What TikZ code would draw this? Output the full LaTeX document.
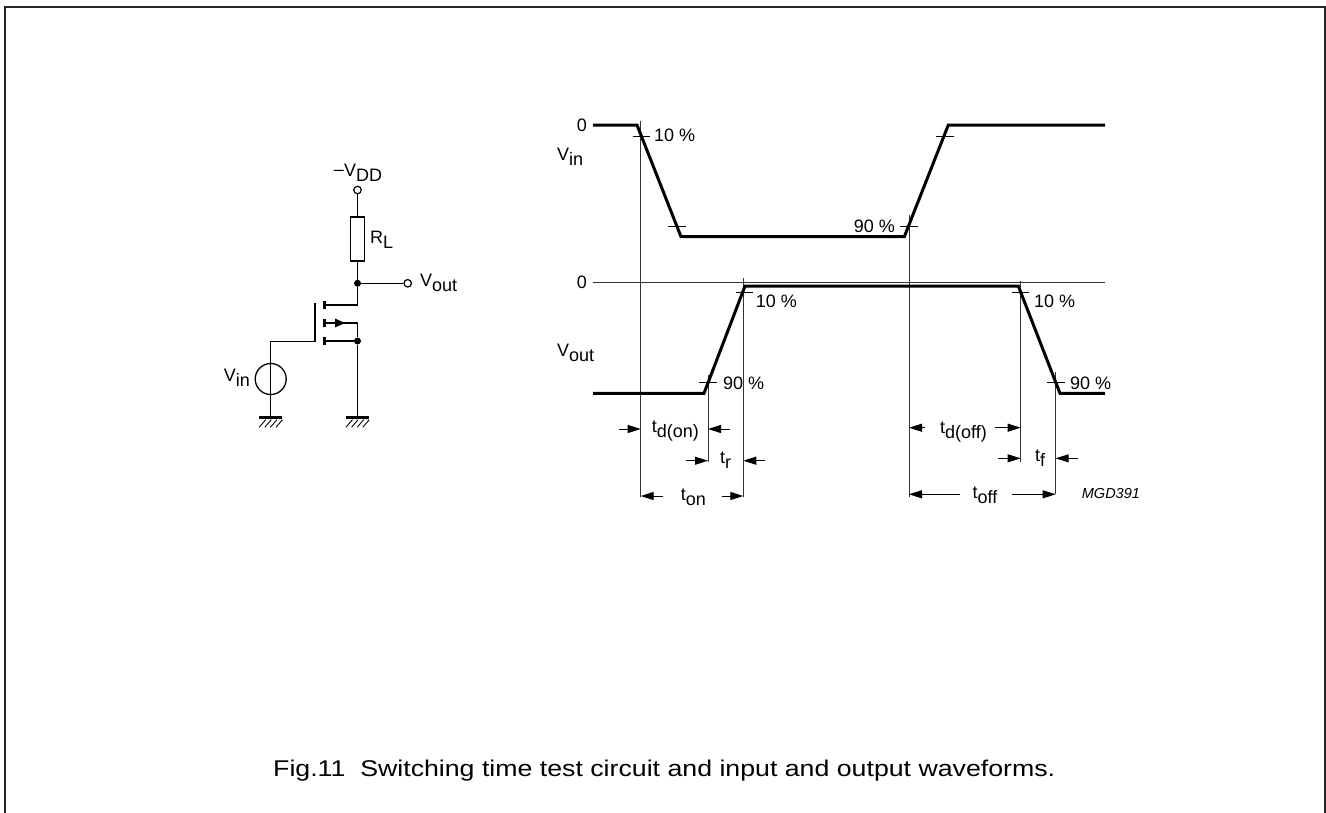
\documentclass[tikz,border=0pt]{standalone}
\usepackage{fontspec}
\setmainfont{Liberation Sans}
\usetikzlibrary{arrows.meta}
\newcommand\lo[1]{\raisebox{-5pt}{#1}}
\begin{document}
\begin{tikzpicture}[x=1pt,y=-1pt,
  lbl/.style={font=\fontsize{18}{20}\selectfont, inner sep=0pt},
  wave/.style={line width=3pt, line join=miter},
  guide/.style={line width=1pt, black!80},
  tickmark/.style={line width=1pt},
  wire/.style={line width=1.3pt},
  tarr/.style={line width=1pt, -{Triangle[length=13pt,width=8pt]}},
  term/.style={circle, draw, line width=1.2pt, fill=white, minimum size=7.5pt, inner sep=0pt},
  jdot/.style={circle, fill, minimum size=7pt, inner sep=0pt},
  gnd/.pic={
    \draw[line width=3pt] (-11.5,0) -- (11.5,0);
    \foreach \i in {0,1,2,3} \draw[line width=0.9pt] (-11.5+\i*5.6,9.5) -- (-5+\i*5.6,2);
  }
]
\useasboundingbox (0,0) rectangle (1326,812);
\draw[line width=2pt, black!85] (5,6.5) rectangle (1324.5,840);

% ---------------- circuit ----------------
\node[lbl, anchor=base] (vddl) at (358,176) {\raisebox{1pt}{–}V\lo{DD}};
\node[term] (vdd) at (357.5,190) {};
\node[draw, line width=1.3pt, minimum width=13.6pt, minimum height=44pt, inner sep=0pt] (rl) at (357.5,239) {};
\node[lbl, anchor=base west] (rll) at (370,243.3) {R\lo{L}};
\node[jdot] (j1) at (357.5,283.3) {};
\node[term] (vo) at (407.7,283.3) {};
\node[lbl, anchor=base west] (vol) at (420,286.7) {V\lo{out}};
\draw[wire] (vdd) -- (rl.north);
\draw[wire] (rl.south) -- (j1);
\draw[wire] (j1) -- (vo);
% mosfet
\coordinate (dbar) at (324,305);
\coordinate (sbar) at (324,323);
\coordinate (bbar) at (324,341);
\node[jdot] (j2) at (357.5,341) {};
\draw[wire] (j1) |- (dbar);
\draw[wire] (sbar) -- (357.5,323) -- (j2);
\draw[wire] (bbar) -- (j2);
\foreach \c in {dbar,sbar,bbar} \draw[line width=3pt] ([yshift=-4.2pt]\c) -- ([yshift=4.2pt]\c);
\fill (335,318.5) -- (345,323) -- (335,327.5) -- cycle;
% gate and source
\coordinate (gtop) at (315,303);
\coordinate (gbot) at (315,341.5);
\coordinate (g1) at (270.7,417.7);
\coordinate (g2) at (357.5,417.7);
\draw[wire] (gtop) -- (gbot) -| (g1);
\node[circle, draw, line width=1.3pt, minimum size=31pt, inner sep=0pt] (vs) at (270.7,379) {};
\node[lbl, anchor=base east] (vinl) at (250,381.5) {V\lo{in}};
\draw[wire] (j2) -- (g2);
\pic at (g1) {gnd};
\pic at (g2) {gnd};

% ---------------- waveforms ----------------
% guides
\draw[guide] (593,282.3) -- (1105,282.3);
\draw[guide] (640.7,121) -- (640.7,497);
\draw[guide] (909,215) -- (909,497);
\draw[guide] (743.3,278) -- (743.3,497);
\draw[guide] (708,375) -- (708,462);
\draw[guide] (1020.7,281) -- (1020.7,462);
\draw[guide] (1055.7,372) -- (1055.7,494);
% Vin
\coordinate (a0) at (593,125);
\coordinate (a1) at (637,125);
\coordinate (a2) at (681,236.7);
\coordinate (a3) at (904.3,236.7);
\coordinate (a4) at (948.3,125);
\coordinate (a5) at (1105,125);
\draw[wave] (a0) -- (a1) -- (a2) -- (a3) -- (a4) -- (a5);
\draw[tickmark] (632.5,136) -- (650,136);
\draw[tickmark] (668,226) -- (686,226);
\draw[tickmark] (900,226) -- (917.5,226);
\draw[tickmark] (936,136) -- (953.5,136);
% Vout
\coordinate (b0) at (593,393.3);
\coordinate (b1) at (704,393.3);
\coordinate (b2) at (745,286);
\coordinate (b3) at (1018.3,286);
\coordinate (b4) at (1060,393.3);
\coordinate (b5) at (1105,393.3);
\draw[wave] (b0) -- (b1) -- (b2) -- (b3) -- (b4) -- (b5);
\draw[tickmark] (735.5,292.7) -- (752.5,292.7);
\draw[tickmark] (699.3,382.7) -- (716.7,382.7);
\draw[tickmark] (1011.7,292.7) -- (1029.3,292.7);
\draw[tickmark] (1047.3,382.7) -- (1065,382.7);
% labels
\node[lbl, anchor=base east] (z1) at (587,131.5) {0};
\node[lbl, anchor=base east] (z2) at (587,288.8) {0};
\node[lbl, anchor=base west] (vinw) at (557,160) {V\lo{in}};
\node[lbl, anchor=base west] (voutw) at (557,356) {V\lo{out}};
\node[lbl, anchor=base west] (p1) at (654,141.5) {10 \%};
\node[lbl, anchor=base east] (p2) at (895,232.5) {90 \%};
\node[lbl, anchor=base west] (p3) at (755.7,307) {10 \%};
\node[lbl, anchor=base west] (p4) at (723,389) {90 \%};
\node[lbl, anchor=base west] (p5) at (1034,307) {10 \%};
\node[lbl, anchor=base west] (p6) at (1070,389) {90 \%};
% timing
\draw[tarr] (619.3,429) -- (640.7,429);
\draw[tarr] (730,429) -- (708,429);
\node[lbl, anchor=base west] (tdon) at (651.7,432) {t\lo{d(on)}};
\draw[tarr] (686,460.7) -- (708,460.7);
\draw[tarr] (765,460.7) -- (743.3,460.7);
\node[lbl, anchor=base west] (tr) at (720,463) {t\lo{r}};
\draw[tarr] (663.3,496) -- (640.7,496);
\draw[tarr] (721.7,496) -- (743.3,496);
\node[lbl, anchor=base] (ton) at (693.3,500) {t\lo{on}};
\draw[tarr] (925,427.7) -- (909,427.7);
\draw[tarr] (995,427.7) -- (1020.7,427.7);
\node[lbl, anchor=base west] (tdoff) at (940,433) {t\lo{d(off)}};
\draw[tarr] (998.3,458.3) -- (1020.7,458.3);
\draw[tarr] (1078.3,458.3) -- (1055.7,458.3);
\node[lbl, anchor=base west] (tf) at (1035,461.7) {t\lo{f}};
\draw[tarr] (960,494.3) -- (909,494.3);
\draw[tarr] (1011.7,494.3) -- (1055.7,494.3);
\node[lbl, anchor=base] (toff) at (985,498.5) {t\lo{off}};
\node[inner sep=0pt, anchor=base west, font=\fontsize{14.5}{16}\selectfont\itshape] (mgd) at (1081.7,498) {MGD391};

% caption
\node[inner sep=0pt, anchor=base west, font=\fontsize{22}{24}\selectfont] (cap) at (273,776.7)
  {\resizebox{782pt}{16.5pt}{Fig.11\ \ Switching time test circuit and input and output waveforms.}};
\end{tikzpicture}
\end{document}
